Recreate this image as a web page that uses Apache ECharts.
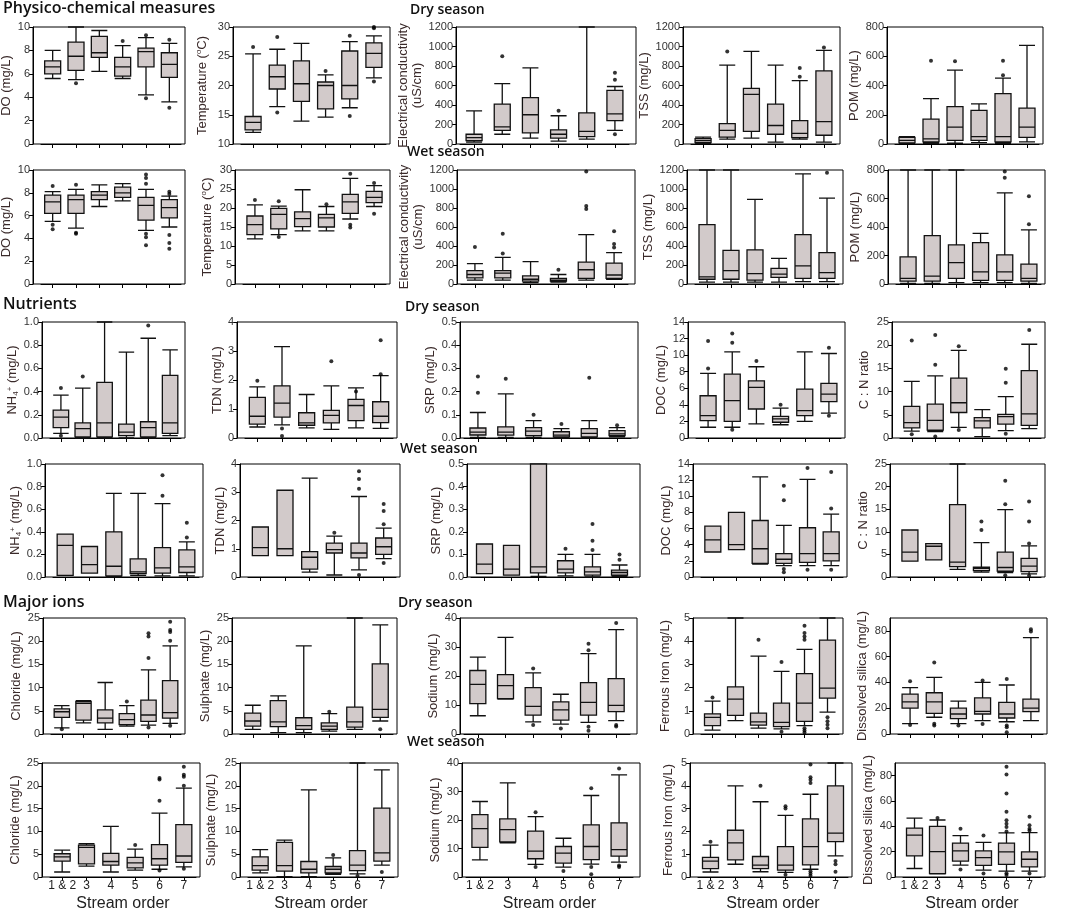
<!DOCTYPE html>
<html>
<head>
<meta charset="utf-8" />
<title>Stream order boxplots</title>
<style type="text/css">
*{margin:0;padding:0;}
body{background:#fff;}
#chart{width:1072px;height:910px;}
</style>
</head>
<body>
<div id="chart"></div>
<script src="https://cdn.jsdelivr.net/npm/echarts@6/dist/echarts.min.js"></script>
<script type="text/javascript">
var categories = ['1 & 2', '3', '4', '5', '6', '7'];

// each box: [min, Q1, median, Q3, max]; outliers listed per category
// physico-chemical, dry season
var doDry = [[5.6,6.0,6.6,7.1,8.0],[5.5,6.3,7.5,8.7,10],[6.2,7.4,7.8,9.2,9.7],[5.6,5.8,6.6,7.4,8.4],[4.2,6.6,7.9,8.2,9.1],[3.6,5.7,6.8,7.8,8.6]];
var doDryOut = [[],[5.2],[],[8.8],[9.3,3.9],[8.9,3.1]];
var tempDry = [[12,12.4,13.7,14.7,25.4],[16.4,19.4,21.5,23.5,26.2],[13.9,17.3,20.3,24.2,27.2],[14.6,16.0,20.0,20.6,21.8],[16.2,17.7,20.0,25.9,27.5],[21.3,23.1,25.5,27.3,28.5]];
var tempDryOut = [[26.6],[28.3,15.4],[],[22.5],[28.5,14.8],[29.8,30,20.7]];
var ecDry = [[20,35,65,100,340],[100,140,175,410,620],[60,115,300,475,780],[30,60,100,145,290],[50,75,130,320,1200],[140,240,310,550,590]];
var ecDryOut = [[],[900],[],[340],[],[730,660,100]];
var tssDry = [[5,15,35,55,70],[50,70,140,210,810],[60,130,510,570,950],[20,100,190,410,810],[50,65,110,240,650],[20,90,230,750,960]];
var tssDryOut = [[],[950],[],[],[780,690],[990]];
var pomDry = [[5,8,25,45,50],[5,15,35,170,310],[5,25,115,255,505],[10,25,50,230,275],[5,15,50,345,450],[15,45,115,245,675]];
var pomDryOut = [[],[570],[565],[],[570,470],[]];

// physico-chemical, wet season
var doWet = [[5.5,6.2,7.2,7.8,8.1],[4.9,6.2,7.4,7.8,8.3],[6.8,7.4,7.8,8.1,8.7],[7.3,7.6,8.0,8.5,8.8],[4.7,5.6,6.9,7.6,8.3],[5.0,5.8,6.7,7.4,7.7]];
var doWetOut = [[8.6,5.2,4.8],[8.7,4.5,4.4],[],[],[9.6,9.3,8.8,4.4,4.1,3.4],[8.1,7.9,4.3,3.6,3.1]];
var tempWet = [[11.9,13.0,15.6,17.9,20.8],[13,14.5,18.3,19.9,20.5],[14,15.1,17.2,19,24.8],[14,15,17.4,18.3,20.4],[17.1,18.6,21.6,23.6,27.8],[20.4,21.4,22.8,24.4,25.9]];
var tempWetOut = [[22.1],[21.8,12.4],[],[21],[29,15.6,14.9],[26.6,18.5]];
var ecWet = [[40,65,100,140,215],[40,65,115,140,280],[15,30,50,85,235],[20,30,40,60,100],[40,60,150,230,520],[50,60,95,220,330]];
var ecWetOut = [[390],[530,320],[],[150],[1185,820,790],[555,420,385]];
var tssWet = [[20,50,75,625,1200],[20,50,140,355,1200],[20,40,110,360,890],[20,70,105,165,270],[25,60,190,520,1160],[25,60,120,330,905]];
var tssWetOut = [[],[],[],[],[],[1170]];
var pomWet = [[5,20,40,190,800],[5,20,55,340,800],[10,40,150,275,800],[10,25,85,290,355],[10,25,85,205,640],[5,20,40,140,380]];
var pomWetOut = [[],[],[],[],[790,745],[615,420]];

// nutrients, dry season
var nh4Dry = [[0.04,0.09,0.18,0.24,0.37],[0,0.01,0.08,0.13,0.43],[0,0.01,0.13,0.48,1.0],[0,0.02,0.05,0.12,0.74],[0,0.01,0.09,0.14,0.86],[0.02,0.04,0.13,0.54,0.76]];
var nh4DryOut = [[0.43,0.02],[0.53],[],[],[0.97],[]];
var tdnDry = [[0.38,0.48,0.75,1.4,1.76],[0.45,0.72,1.2,1.8,3.15],[0.35,0.44,0.52,0.87,1.5],[0.3,0.52,0.78,0.95,1.8],[0.35,0.6,1.12,1.33,1.73],[0.33,0.53,0.75,1.25,2.15]];
var tdnDryOut = [[1.97],[0.33,0.07],[],[2.65],[1.6],[3.37,2.2]];
var srpDry = [[0.003,0.013,0.025,0.043,0.11],[0.003,0.012,0.025,0.048,0.19],[0.003,0.01,0.03,0.045,0.075],[0,0.005,0.012,0.027,0.04],[0,0.005,0.02,0.04,0.075],[0.005,0.01,0.018,0.032,0.045]];
var srpDryOut = [[0.265,0.195],[0.255],[0.1],[0.06],[0.26],[0.055]];
var docDry = [[1.3,2.1,2.7,5.1,7.8],[1.3,2.0,4.5,7.7,10.4],[1.7,3.5,6.1,6.9,8.6],[1.6,1.9,2.3,2.6,3.6],[2.0,2.7,3.3,5.9,10.4],[3.0,4.4,5.3,6.6,10.2]];
var docDryOut = [[11.7,8.4],[12.6,11.5,1.0],[9.3],[4.0],[],[10.9,2.7]];
var cnDry = [[1.5,2.2,3.3,6.8,12.2],[1.4,1.7,3.8,7.3,13.4],[2.3,5.5,7.6,12.9,18.9],[0.3,2.2,3.7,4.4,6.1],[1.6,3.0,4.6,5.1,8.9],[2.0,2.7,5.2,14.5,20.2]];
var cnDryOut = [[21,0.8],[22.2,15.8,0.3],[19.8,1.7],[],[14.9,11.9,0.9],[23.3]];

// nutrients, wet season
var nh4Wet = [[0.015,0.015,0.28,0.38,0.38],[0.035,0.035,0.11,0.27,0.27],[0,0.01,0.095,0.4,0.74],[0.015,0.03,0.045,0.16,0.74],[0.01,0.035,0.08,0.26,0.65],[0.01,0.04,0.09,0.24,0.31]];
var nh4WetOut = [[],[],[],[],[0.9,0.72],[0.48,0.35]];
var tdnWet = [[0.76,0.76,1.04,1.77,1.77],[0.76,0.76,1.0,3.07,3.07],[0.17,0.28,0.7,0.9,3.5],[0.07,0.85,0.97,1.2,1.45],[0.25,0.68,0.85,1.2,2.85],[0.65,0.8,1.07,1.38,1.73]];
var tdnWetOut = [[],[],[],[1.57],[3.74,3.47,3.12,0.07],[2.58,2.34,1.87,0.5]];
var srpWet = [[0.015,0.015,0.057,0.146,0.146],[0.008,0.008,0.035,0.14,0.14],[0.003,0.018,0.045,0.5,0.5],[0.005,0.018,0.035,0.072,0.1],[0,0.008,0.023,0.045,0.1],[0.003,0.008,0.02,0.03,0.053]];
var srpWetOut = [[],[],[],[0.125],[0.235,0.16,0.12],[0.1,0.076]];
var docWet = [[3.1,3.1,4.6,6.3,6.3],[3.4,3.4,4.0,8.0,8.0],[1.6,1.7,3.5,7.0,12.4],[1.4,1.7,2.2,2.9,6.4],[1.4,1.8,2.9,6.1,12.1],[1.4,2.0,2.9,5.6,7.8]];
var docWetOut = [[],[],[],[11.3,9.5,1.0,0.6],[13.5,0.9],[13.0,8.5,0.9]];
var cnWet = [[3.5,3.5,5.5,10.4,10.4],[3.8,3.8,6.8,7.4,7.4],[1.7,2.3,3.3,16,25],[1.1,1.4,1.9,2.2,7.6],[1.0,1.3,2.1,5.5,14.9],[0.7,1.2,2.4,4.1,6.9]];
var cnWetOut = [[],[],[],[12.3,10.4],[21.3,16.1,0.4],[16.7,12.3,7.4,0.3]];

// major ions, dry season
var clDry = [[1.3,3.6,4.8,5.4,6.1],[2.4,3.0,6.6,7.0,7.2],[1.0,2.4,3.4,5.2,11.1],[1.7,2.0,3.1,4.4,6.1],[1.9,2.7,4.1,7.3,13.8],[2.3,3.4,4.6,11.5,19.0]];
var clDryOut = [[1.0],[],[],[7.0],[21.7,21.0,16.4,1.4],[24.2,22.4,22.0,20.1,1.8]];
var so4Dry = [[1.0,1.7,2.8,4.5,6.2],[0.3,1.6,2.6,7.2,8.2],[0.3,1.0,1.8,3.5,19],[0.6,1.0,1.7,2.4,4.4],[1.0,1.5,2.6,5.8,25],[2.8,3.6,5.3,15.1,23.5]];
var so4DryOut = [[],[],[],[4.8],[],[1.0]];
var naDry = [[6.3,10.5,17.1,21.9,26.5],[12,12.2,16.7,20.5,33.3],[4.2,6.5,9.5,16,21.1],[3.4,4.8,8.3,11.1,13.7],[4.0,6.5,10.9,17.7,27.7],[4.6,7.7,9.9,19.1,36]];
var naDryOut = [[],[],[22.6,3.1],[1.9],[31.1,28.9,2.5,1.1],[38.3,3.1,2.6]];
var feDry = [[0.17,0.36,0.72,0.87,1.42],[0.58,0.8,1.5,2.03,5],[0.25,0.38,0.52,0.9,3.36],[0.22,0.32,0.5,1.33,2.7],[0.36,0.54,1.33,2.6,3.65],[0.94,1.55,1.98,4.05,5]];
var feDryOut = [[1.57],[],[4.06],[3.1,0.1],[4.67,4.35,4.2,4.06,0.25,0.15,0.07],[0.72,0.55,0.4,0.25]];
var siDry = [[8,20,25,31,36],[13,16,25,32,44],[8,12,15.5,20,25.5],[10.3,15.5,17.5,28,40],[9.5,12.4,15.5,24.5,38],[10.3,17.3,20,27,74.8]];
var siDryOut = [[41,7],[55.5,8,6.5],[6.5],[41.5,7.7],[42.6,6.5,5.2,1.3],[81.3,79.5]];

// major ions, wet season
var clWet = [[1.1,3.5,4.4,5.1,5.9],[2.4,2.9,6.5,7.0,7.3],[1.1,2.6,3.4,5.2,11.1],[1.5,2.0,3.1,4.3,6.1],[1.7,2.6,4.0,7.1,14],[2.2,3.2,4.6,11.5,19.5]];
var clWetOut = [[],[],[],[7.0],[21.7,21.4,16.7,1.4],[24.2,22.4,22,20,1.8]];
var so4Wet = [[0.9,1.5,2.5,4.4,6],[0.1,1.3,2.5,7.6,8.1],[0.1,0.9,1.7,3.4,19.1],[0.6,0.9,1.7,2.3,4.2],[0.7,1.4,2.6,5.8,25],[2.6,3.5,5.3,15.1,23.5]];
var so4WetOut = [[],[],[],[4.8],[0.2],[1.1]];
var naWet = [[6.0,10.4,17,21.9,26.5],[12,12.3,16.6,20.4,33],[4.4,6.4,9.1,16.1,21.2],[3.5,4.9,8.4,10.7,13.6],[4.5,6.1,10.7,18.3,28.6],[5.2,7.3,9.6,19,35.8]];
var naWetOut = [[],[],[22.7,3.5],[2.1],[31.1,3.5,1],[38.1,4.0,3.5]];
var feWet = [[0.22,0.37,0.7,0.86,1.4],[0.56,0.75,1.5,2.05,4.0],[0.23,0.37,0.52,0.9,3.3],[0.2,0.3,0.52,1.33,2.7],[0.34,0.53,1.33,2.55,3.63],[0.93,1.55,1.92,4.0,5]];
var feWetOut = [[1.55],[],[4.0],[3.1,3.0,0.1],[4.93,4.37,4.27,4.12,0.25,0.15,0.05],[0.7,0.56,0.23]];
var siWet = [[6.7,16.6,33,38.6,46.5],[2.4,2.7,20,40,45],[9.4,12.6,20.6,26.8,32.7],[5.4,9.1,15.3,20.6,27.3],[4.6,9.9,19.8,26.8,34.9],[4.6,8,14,19.8,35]];
var siWetOut = [[],[46.5],[38,5.9],[32.7,2.7],[87,81,66,51.5,44.8,42,39.4,36,3,1.5],[47.5,40.8,38,36.7,2.7]];

// y scales: [min, max, interval, decimals]
var scaleDO = [0, 10, 2, 0];
var scaleTempDry = [10, 30, 5, 0];
var scaleTempWet = [0, 30, 5, 0];
var scaleEC = [0, 1200, 200, 0];
var scaleTSS = [0, 1200, 200, 0];
var scalePOM = [0, 800, 200, 0];
var scaleNH4 = [0, 1, 0.2, 1];
var scaleTDN = [0, 4, 1, 0];
var scaleSRP = [0, 0.5, 0.1, 1];
var scaleDOC = [0, 14, 2, 0];
var scaleCN = [0, 25, 5, 0];
var scaleCl = [0, 25, 5, 0];
var scaleSO4 = [0, 25, 5, 0];
var scaleNa = [0, 40, 10, 0];
var scaleFe = [0, 5, 1, 0];
var scaleSi = [0, 90, 20, 0];

var nameEC = 'Electrical conductivity\n(uS/cm)';
var nameNH4 = 'NH{sub|4}{sup|+} (mg/L)';
var nameTemp = 'Temperature ({sup|o}C)';

var panels = [
	{box: doDry, out: doDryOut, name: 'DO (mg/L)', scale: scaleDO},
	{box: tempDry, out: tempDryOut, name: nameTemp, scale: scaleTempDry},
	{box: ecDry, out: ecDryOut, name: nameEC, scale: scaleEC},
	{box: tssDry, out: tssDryOut, name: 'TSS (mg/L)', scale: scaleTSS},
	{box: pomDry, out: pomDryOut, name: 'POM (mg/L)', scale: scalePOM},
	{box: doWet, out: doWetOut, name: 'DO (mg/L)', scale: scaleDO},
	{box: tempWet, out: tempWetOut, name: nameTemp, scale: scaleTempWet},
	{box: ecWet, out: ecWetOut, name: nameEC, scale: scaleEC},
	{box: tssWet, out: tssWetOut, name: 'TSS (mg/L)', scale: scaleTSS},
	{box: pomWet, out: pomWetOut, name: 'POM (mg/L)', scale: scalePOM},
	{box: nh4Dry, out: nh4DryOut, name: nameNH4, scale: scaleNH4},
	{box: tdnDry, out: tdnDryOut, name: 'TDN (mg/L)', scale: scaleTDN},
	{box: srpDry, out: srpDryOut, name: 'SRP (mg/L)', scale: scaleSRP},
	{box: docDry, out: docDryOut, name: 'DOC (mg/L)', scale: scaleDOC},
	{box: cnDry, out: cnDryOut, name: 'C : N ratio', scale: scaleCN},
	{box: nh4Wet, out: nh4WetOut, name: nameNH4, scale: scaleNH4},
	{box: tdnWet, out: tdnWetOut, name: 'TDN (mg/L)', scale: scaleTDN},
	{box: srpWet, out: srpWetOut, name: 'SRP (mg/L)', scale: scaleSRP},
	{box: docWet, out: docWetOut, name: 'DOC (mg/L)', scale: scaleDOC},
	{box: cnWet, out: cnWetOut, name: 'C : N ratio', scale: scaleCN},
	{box: clDry, out: clDryOut, name: 'Chloride (mg/L)', scale: scaleCl},
	{box: so4Dry, out: so4DryOut, name: 'Sulphate (mg/L)', scale: scaleSO4},
	{box: naDry, out: naDryOut, name: 'Sodium (mg/L)', scale: scaleNa},
	{box: feDry, out: feDryOut, name: 'Ferrous Iron (mg/L)', scale: scaleFe},
	{box: siDry, out: siDryOut, name: 'Dissolved silica (mg/L)', scale: scaleSi},
	{box: clWet, out: clWetOut, name: 'Chloride (mg/L)', scale: scaleCl},
	{box: so4Wet, out: so4WetOut, name: 'Sulphate (mg/L)', scale: scaleSO4},
	{box: naWet, out: naWetOut, name: 'Sodium (mg/L)', scale: scaleNa},
	{box: feWet, out: feWetOut, name: 'Ferrous Iron (mg/L)', scale: scaleFe},
	{box: siWet, out: siWetOut, name: 'Dissolved silica (mg/L)', scale: scaleSi}
];

// layout: panel frames per row [left, right], row tops/bottoms, y-name gaps
var rowTop = [27, 170, 322, 464, 618, 763];
var rowBottom = [144, 284, 438, 577, 734, 877];
var frameX = [
	[[33,185],[233,390],[456,636],[683,840],[887,1043]],
	[[33,185],[235,390],[457,635],[687,843],[888,1045]],
	[[42,185],[237,397],[460,638],[688,845],[892,1045]],
	[[45,203],[240,400],[467,640],[693,847],[890,1045]],
	[[43,185],[232,397],[460,637],[693,843],[890,1047]],
	[[42,200],[240,398],[462,640],[690,852],[895,1045]]
];
var nameGaps = [
	[17,24,28,24,24],
	[17,21,30,24,23],
	[21,13,22,20,21],
	[22,12,24,18,17],
	[20,15,20,21,21],
	[19,22,18,15,17]
];

var tickFont = "'Liberation Sans Narrow', 'Liberation Sans', Arial, sans-serif";
var nameFont = "'Liberation Sans', Arial, sans-serif";
var headFont = "'Open Sans', 'Liberation Sans', sans-serif";

var option = {
	animation: false,
	backgroundColor: '#fff',
	title: [],
	grid: [],
	xAxis: [],
	yAxis: [],
	series: []
};

var heads = [
	['Physico-chemical measures', 3, 0, 16], ['Dry season', 410, 3, 14], ['Wet season', 407, 145, 14],
	['Nutrients', 3, 296, 16], ['Dry season', 405, 300, 14], ['Wet season', 400, 442, 14],
	['Major ions', 3, 594, 16], ['Dry season', 398, 596, 14], ['Wet season', 407, 735, 14]
];
heads.forEach(function(h){
	option.title.push({
		text: h[0], left: h[1], top: h[2], padding: 0,
		textStyle: {fontFamily: headFont, fontWeight: 600, fontSize: h[3], color: '#111'}
	});
});

panels.forEach(function(p, i){
	var r = Math.floor(i / 5), c = i % 5;
	var fx = frameX[r][c], top = rowTop[r], h = rowBottom[r] - top;
	var padL = c == 2 ? 4 : 8, padR = c == 2 ? 7 : 4;
	var last = r == 5;
	var sc = p.scale;

	// outer frame
	option.grid.push({left: fx[0], top: top, width: fx[1] - fx[0], height: h,
		show: true, borderColor: '#000', borderWidth: 1, backgroundColor: 'rgba(0,0,0,0)', outerBoundsMode: 'none'});
	// data area, boxes sit a bit inside the frame
	option.grid.push({left: fx[0] + padL, top: top, width: fx[1] - fx[0] - padL - padR, height: h, outerBoundsMode: 'none'});
	var g = option.grid.length - 1;

	option.xAxis.push({
		type: 'category', gridIndex: g, data: categories,
		axisLine: {show: true, lineStyle: {color: '#000', width: 1}},
		axisTick: {show: true, alignWithLabel: true, length: 4, lineStyle: {color: '#000'}},
		axisLabel: {show: last, margin: 3, fontSize: 12, color: '#222', fontFamily: tickFont, interval: 0},
		splitLine: {show: false},
		name: last ? 'Stream order' : '',
		nameLocation: 'middle', nameGap: 19,
		nameTextStyle: {fontSize: 16, color: '#222', fontFamily: nameFont}
	});
	option.yAxis.push({
		type: 'value', gridIndex: g, offset: padL,
		min: sc[0], max: sc[1], interval: sc[2],
		axisLine: {show: true, lineStyle: {color: '#000', width: 1}},
		axisTick: {show: true, length: 4, lineStyle: {color: '#000'}},
		axisLabel: {margin: 3, fontSize: 11, color: '#333', fontFamily: tickFont, showMaxLabel: sc[1] != 90,
			formatter: function(v){ return v.toFixed(sc[3]); }},
		splitLine: {show: false},
		name: p.name, nameLocation: 'middle', nameGap: nameGaps[r][c],
		nameTextStyle: {fontSize: 13, color: '#3a2a2a', fontFamily: nameFont, lineHeight: 14,
			rich: {
				sub: {fontSize: 8, fontFamily: nameFont, color: '#3a2a2a', padding: [6, 0, 0, 0]},
				sup: {fontSize: 8, fontFamily: nameFont, color: '#3a2a2a', padding: [0, 0, 7, 0]}
			}}
	});

	var k = option.xAxis.length - 1;
	option.series.push({
		type: 'boxplot', xAxisIndex: k, yAxisIndex: k,
		data: p.box, boxWidth: [15, 16],
		itemStyle: {color: '#d2caca', borderColor: '#111', borderWidth: 1.3},
		emphasis: {disabled: true},
		silent: true
	});
	var pts = [];
	p.out.forEach(function(list, ci){
		list.forEach(function(v){ pts.push([ci, v]); });
	});
	option.series.push({
		type: 'scatter', xAxisIndex: k, yAxisIndex: k,
		data: pts, symbolSize: 4, z: 5,
		itemStyle: {color: '#000'},
		silent: true
	});
});

var chart = echarts.init(document.getElementById('chart'));
chart.setOption(option);
</script>
</body>
</html>
